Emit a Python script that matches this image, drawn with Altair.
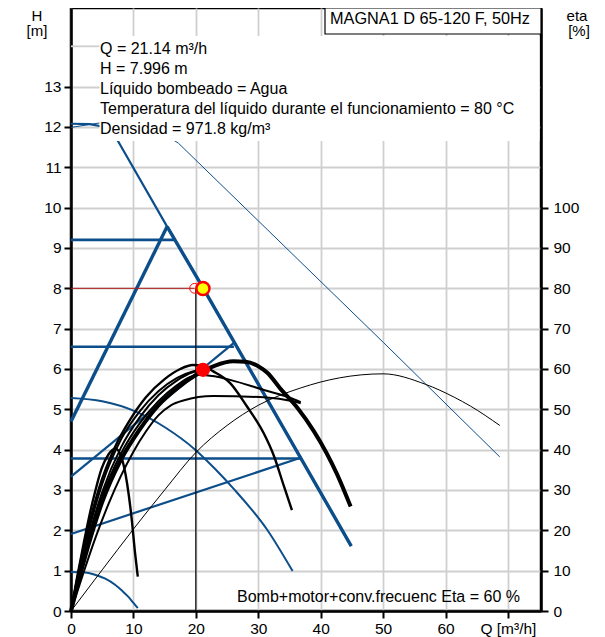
import altair as alt
import pandas as pd

FONT = "Liberation Sans"
BLUE = "#0c4e8a"
W, HT = 470, 603
Q_DOMAIN = [0, 75.3]
H_DOMAIN = [0, 14.95]
ETA_DOMAIN = [0, 149.5]

q_ticks = [0, 10, 20, 30, 40, 50, 60, 70]
h_ticks = list(range(0, 14))
eta_ticks = list(range(0, 101, 10))

# ---------------- head curves (H in m) ----------------
max_q = [0, 3, 5.5, 7.5, 15.4, 21.2, 44.9]
max_h = [12.08, 12.07, 12.0, 11.66, 9.53, 8.0, 1.61]
maxthick_q = [15.4, 21.2, 44.9]
maxthick_h = [9.53, 8.0, 1.61]
thin_q = [0, 4.6, 9, 13, 17.2, 50.1, 68.7]
thin_h = [11.99, 12.1, 12.2, 12.0, 11.6, 6.65, 3.82]
pp3_q = [0, 15.4]
pp3_h = [4.7, 9.53]
pp2_q = [0, 26.1]
pp2_h = [3.33, 6.65]
pp1_q = [0, 36.8]
pp1_h = [1.91, 3.8]
cp3_q = [0, 16.5]
cp3_h = [9.2, 9.2]
cp2_q = [0, 26.1]
cp2_h = [6.55, 6.55]
cp1_q = [0, 36.8]
cp1_h = [3.78, 3.78]
par_q = [0, 5, 10.3, 15.1, 19.9, 23.1, 26, 31.4, 35.5]
par_h = [5.28, 5.2, 4.95, 4.55, 4.0, 3.52, 3.04, 2.02, 0.99]
small_q = [0, 2, 3.85, 5.5, 7.06, 8.2, 9.2, 10, 10.7]
small_h = [0.97, 0.96, 0.9, 0.8, 0.65, 0.5, 0.35, 0.2, 0.07]

# ---------------- efficiency curves (eta in %) ----------------
ea_q = [0, 1, 2, 3, 3.85, 4.9, 6, 7.1, 8.1, 9, 9.74, 10.26, 10.7]
ea_e = [0, 8.5, 16.5, 24, 29.5, 35.3, 38.8, 40.3, 38, 31.5, 22.6, 14.4, 8.5]
eb_q = [0, 2, 4.5, 7, 9.5, 12, 15, 17.5, 19.5, 21, 22.8, 25.5, 28.2, 30.9, 32.5, 34.1, 35.4]
eb_e = [0, 15.5, 30.5, 40.5, 47.5, 53, 57.5, 60, 61, 60.8, 59.4, 56.5, 50.7, 44, 38.5, 31, 25]
ef_q = [0, 2, 5, 8, 11, 14, 17, 19.5, 21.14]
ef_e = [0, 14.5, 31.5, 42.5, 49.5, 54.5, 57.8, 59.4, 59.8]
eg_q = [0, 2, 5, 8, 11, 14, 17, 19.5, 21.14]
eg_e = [0, 13.5, 29.5, 40.5, 48, 53.5, 57.2, 59.2, 59.8]
ee_q = [0, 2, 5, 8, 11, 14, 17, 19, 20.5, 23, 25.5, 30.9, 35.2, 36.8]
ee_e = [0, 13, 28.5, 39, 46.5, 52, 56, 58, 58.6, 58.2, 57.3, 54.8, 52.8, 51.8]
ec_q = [0, 2, 5, 8, 11, 14, 17, 20, 23, 26, 28, 30, 31.5, 33.5, 36.2, 38.9, 41, 42.6, 44.8]
ec_e = [0, 12, 27, 37.5, 45, 51, 55.2, 58.5, 60.8, 61.9, 61.8, 60.7, 59, 55.2, 50.5, 44.6, 39.0, 34, 25.9]
ed_q = [0, 2, 4, 6, 8, 10, 12, 14, 16, 18, 22.8, 30.9, 35.6, 36.8]
ed_e = [0, 9.5, 18.5, 26.5, 33.5, 39.5, 44.5, 48.5, 51, 52.2, 53.3, 53, 52, 51.5]
et_q = [0, 5, 10, 15, 20, 25, 30, 36.8, 43, 50, 56.8, 61.4, 64, 68.7]
et_e = [0, 10.2, 20.3, 30, 39.3, 46, 51, 55.3, 57.8, 58.8, 56.2, 53, 50.8, 46]

# duty point
duty_q, duty_h, duty_eta = 21.14, 7.996, 59.8
req_q, req_h = 19.8, 8.0
vline_q = 20.0

blue_straight = [
    ("thin", thin_q, thin_h, 1.0),
    ("max", max_q, max_h, 2.2),
    ("maxthick", maxthick_q, maxthick_h, 3.4),
    ("pp3", pp3_q, pp3_h, 3.4),
    ("pp2", pp2_q, pp2_h, 2.2),
    ("pp1", pp1_q, pp1_h, 2.2),
    ("cp3", cp3_q, cp3_h, 2.6),
    ("cp2", cp2_q, cp2_h, 2.6),
    ("cp1", cp1_q, cp1_h, 2.6),
]
blue_bent = [
    ("par", par_q, par_h, 2.0),
    ("small", small_q, small_h, 2.0),
]
black_curves = [
    ("thinblack", et_q, et_e, 1.0),
    ("a", ea_q, ea_e, 2.4),
    ("b", eb_q, eb_e, 2.4),
    ("f", ef_q, ef_e, 2.0),
    ("g", eg_q, eg_e, 2.0),
    ("e", ee_q, ee_e, 2.0),
    ("d", ed_q, ed_e, 2.0),
    ("c", ec_q, ec_e, 4.0),
]


def to_df(curves, ycol):
    rows = []
    for name, qs, vs, w in curves:
        for i, (q, v) in enumerate(zip(qs, vs)):
            rows.append({"curve": name, "i": i, "q": q, ycol: v, "w": w})
    return pd.DataFrame(rows)


qscale = alt.Scale(domain=Q_DOMAIN, nice=False, zero=False)
hscale = alt.Scale(domain=H_DOMAIN, nice=False, zero=False)
escale = alt.Scale(domain=ETA_DOMAIN, nice=False, zero=False)

xaxis = alt.Axis(values=q_ticks, grid=True, title=None, labelPadding=3, tickSize=7,
                 labelOverlap=False, labelFlush=False,
                 labelExpr="datum.value == 70 ? 'Q [m³/h]' : datum.label")
haxis = alt.Axis(values=h_ticks, grid=True, title=None, orient="left",
                 labelPadding=3, tickSize=7)
eaxis = alt.Axis(values=eta_ticks, grid=False, title=None, orient="right",
                 labelPadding=5, tickSize=7)


def X(f="q"):
    return alt.X(f"{f}:Q", scale=qscale, axis=xaxis)


def YH(f="h"):
    return alt.Y(f"{f}:Q", scale=hscale, axis=haxis)


def YE(f="eta"):
    return alt.Y(f"{f}:Q", scale=escale, axis=eaxis)


grid14 = alt.Chart(pd.DataFrame({"h": [14]})).mark_rule(
    color="#cfcfcf", strokeWidth=1.8
).encode(x=alt.value(0), x2=alt.value(30), y=YH())


def blue_layer(curves, interp):
    return alt.Chart(to_df(curves, "h")).mark_line(
        color=BLUE, strokeCap="butt", strokeJoin="round", interpolate=interp
    ).encode(
        x=X(), y=YH(), detail="curve:N", order="i:Q",
        strokeWidth=alt.StrokeWidth("w:Q", scale=None),
    )


blue_lines = blue_layer(blue_straight, "linear")
blue_curved = blue_layer(blue_bent, "monotone")

red_line = alt.Chart(pd.DataFrame({"q": [0, req_q], "h": [req_h, req_h]})).mark_line(
    color="#b01818", strokeWidth=1
).encode(x=X(), y=YH())

vline = alt.Chart(pd.DataFrame({"q": [vline_q], "h0": [0], "h1": [req_h]})).mark_rule(
    color="black", strokeWidth=1.2
).encode(x=X(), y=YH("h0"), y2="h1:Q")

open_circle = alt.Chart(pd.DataFrame({"q": [req_q], "h": [req_h]})).mark_point(
    shape="circle", filled=False, stroke="#ff0000", strokeWidth=1, size=95, opacity=1
).encode(x=X(), y=YH())

yellow_dot = alt.Chart(pd.DataFrame({"q": [duty_q], "h": [duty_h]})).mark_point(
    shape="circle", filled=True, fill="#ffff00", stroke="#ff0000", strokeWidth=2.5,
    size=170, opacity=1
).encode(x=X(), y=YH())

h_group = alt.layer(grid14, blue_lines, blue_curved, red_line, vline, open_circle, yellow_dot)

black_lines = alt.Chart(to_df(black_curves, "eta")).mark_line(
    color="black", strokeCap="butt", strokeJoin="round", interpolate="monotone"
).encode(
    x=X(), y=YE(), detail="curve:N", order="i:Q",
    strokeWidth=alt.StrokeWidth("w:Q", scale=None),
)

red_dot = alt.Chart(pd.DataFrame({"q": [duty_q], "eta": [duty_eta]})).mark_point(
    shape="circle", filled=True, fill="#ff0000", stroke="#ff0000", size=150, opacity=1
).encode(x=X(), y=YE())

eta_group = alt.layer(black_lines, red_dot)


def box(x1, x2, y1, y2, stroke=None):
    kw = dict(fill="white")
    if stroke:
        kw.update(stroke=stroke, strokeWidth=1.2)
    return alt.Chart(pd.DataFrame({"k": [0]})).mark_rect(**kw).encode(
        x=alt.value(x1), x2=alt.value(x2), y=alt.value(y1), y2=alt.value(y2))


def txt(s, x, y, align="left", size=16):
    return alt.Chart(pd.DataFrame({"t": [s]})).mark_text(
        align=align, baseline="middle", font=FONT, fontSize=size, color="black"
    ).encode(x=alt.value(x), y=alt.value(y), text="t:N")


info_lines = [
    "Q = 21.14 m³/h",
    "H = 7.996 m",
    "Líquido bombeado = Agua",
    "Temperatura del líquido durante el funcionamiento = 80 °C",
    "Densidad = 971.8 kg/m³",
]
title_text = "MAGNA1 D 65-120 F, 50Hz"
footer_text = "Bomb+motor+conv.frecuenc Eta = 60 %"

annot = [box(28.5, 468.5, 28, 133), box(254, 470, 0, 26, stroke="black"),
         txt(title_text, 259, 11, size=16.3)]
for k, line in enumerate(info_lines):
    annot.append(txt(line, 29, 41 + 20 * k))
annot += [
    txt(footer_text, 166, 589),
    txt("H", -34, 7.5, align="center", size=15),
    txt("[m]", -34, 23, align="center", size=15),
    txt("eta", 506, 7.5, align="center", size=15),
    txt("[%]", 508, 23, align="center", size=15),
]

chart = alt.layer(h_group, eta_group, *annot).resolve_scale(y="independent").properties(
    width=W, height=HT,
    autosize=alt.AutoSizeParams(type="none"),
    padding={"left": 63, "top": 0, "right": 50, "bottom": 26},
).configure_view(
    stroke="black", strokeWidth=2.5
).configure_axis(
    labelFont=FONT, labelFontSize=15.5, labelColor="black",
    domainColor="black", domainWidth=2.5,
    tickColor="black", tickWidth=2,
    gridColor="#cfcfcf", gridWidth=1.8,
)

chart.save("out.html", embed_options={"renderer": "svg", "actions": False})
